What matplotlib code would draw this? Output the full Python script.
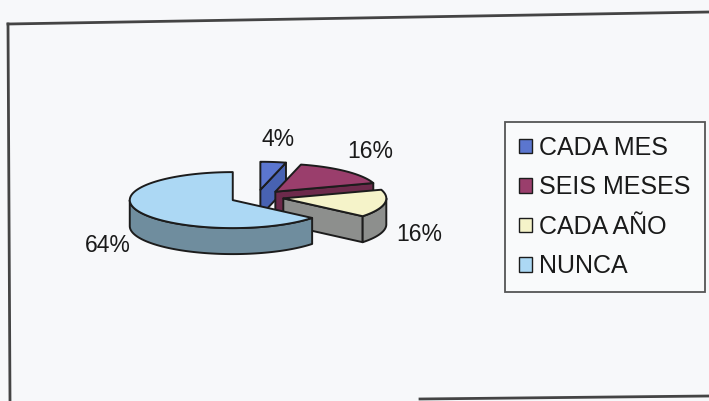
import numpy as np
import matplotlib.pyplot as plt
from matplotlib.patches import Polygon, Patch

plt.rcParams['font.family'] = ['Liberation Sans', 'DejaVu Sans']

labels = ['CADA MES', 'SEIS MESES', 'CADA AÑO', 'NUNCA']
values = [4, 16, 16, 64]
top_colors = ['#5b76cf', '#9a3e6c', '#f5f3c9', '#acd8f4']
side_colors = ['#4862b2', '#6d2a4b', '#8d8f8d', '#6f8d9e']

# 3d pie geometry (pixels)
CX, CY = 257, 197
RX, RY = 103, 28
DEPTH = 26
EXPLODE = 0.26
EDGE = '#1c1c1c'

fig = plt.figure(figsize=(7.09, 4.01), dpi=100, facecolor='#f7f8fa')
ax = fig.add_axes([0, 0, 1, 1])
ax.set_xlim(0, 709)
ax.set_ylim(401, 0)
ax.axis('off')

# chart border
ax.plot([8, 709], [24, 12], color='#444444', lw=2)
ax.plot([8, 10], [24, 401], color='#444444', lw=2)
ax.plot([420, 709], [399, 396], color='#444444', lw=2)


def rim(cx, cy, th, dz=0):
    return np.column_stack([cx + RX * np.sin(th), cy - RY * np.cos(th) + dz])


def draw(poly, fc):
    ax.add_patch(Polygon(poly, closed=True, facecolor=fc, edgecolor=EDGE,
                         lw=1.4, joinstyle='round'))


total = float(sum(values))
start = 0.0
for lab, v, ct, cs in zip(labels, values, top_colors, side_colors):
    t0 = start
    t1 = start + 2 * np.pi * v / total
    start = t1
    mid = 0.5 * (t0 + t1)
    cx = CX + EXPLODE * RX * np.sin(mid)
    cy = CY - EXPLODE * RY * np.cos(mid)
    apex = np.array([[cx, cy]])

    # radial walls facing the viewer
    if np.sin(t0) < -1e-6:
        p = rim(cx, cy, np.array([t0]))
        draw(np.vstack([apex, p, p + [0, DEPTH], apex + [0, DEPTH]]), cs)
    if np.sin(t1) > 1e-6:
        p = rim(cx, cy, np.array([t1]))
        draw(np.vstack([apex, p, p + [0, DEPTH], apex + [0, DEPTH]]), cs)

    # front part of the outer wall
    a0, a1 = max(t0, np.pi / 2), min(t1, 3 * np.pi / 2)
    if a1 > a0:
        th = np.linspace(a0, a1, 80)
        draw(np.vstack([rim(cx, cy, th), rim(cx, cy, th[::-1], DEPTH)]), cs)

    # top face
    th = np.linspace(t0, t1, 120)
    draw(np.vstack([apex, rim(cx, cy, th)]), ct)

    # percentage label
    lx = CX + 1.6 * RX * np.sin(mid)
    ly = CY - 1.6 * RY * np.cos(mid) + (DEPTH + 3 if np.cos(mid) < 0 else -13)
    ax.text(lx, ly, '%d%%' % v, fontsize=16.5, ha='center', va='center',
            color='#1a1a1a')

handles = [Patch(facecolor=c, edgecolor=EDGE, lw=1.0) for c in top_colors]
leg = ax.legend(handles, labels, loc='upper left',
                bbox_to_anchor=(505 / 709, 1 - 122 / 401), fontsize=18,
                frameon=True, fancybox=False, edgecolor='#555555',
                facecolor='#f9fafb', framealpha=1,
                handlelength=0.52, handleheight=0.52, handletextpad=0.3,
                labelspacing=0.62, borderpad=0.55, borderaxespad=0)
leg.get_frame().set_linewidth(1.3)
for t in leg.get_texts():
    t.set_color('#1a1a1a')

fig.savefig('out.png', dpi=100, facecolor=fig.get_facecolor())
